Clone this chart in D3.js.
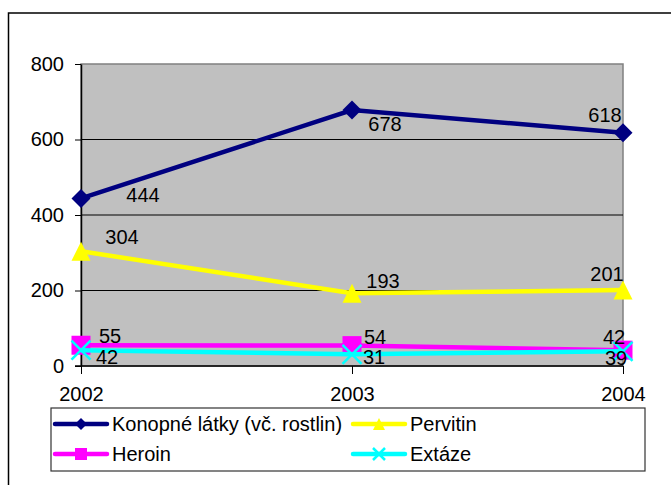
<!DOCTYPE html>
<html>
<head>
<meta charset="utf-8">
<script src="https://cdn.jsdelivr.net/npm/d3@7"></script>
<style>
  body { margin: 0; background: #fff; }
  text { font-family: "Liberation Sans", Arial, sans-serif; fill: #000; }
</style>
</head>
<body>
<div id="chart"></div>
<script>
// data
const years = ["2002", "2003", "2004"];
const konopne = [444, 678, 618];
const pervitin = [304, 193, 201];
const heroin = [55, 54, 42];
const extaze = [42, 31, 39];
const yTicks = [0, 200, 400, 600, 800];

const seriesNames = ["Konopné látky (vč. rostlin)", "Pervitin", "Heroin", "Extáze"];
const seriesValues = [konopne, pervitin, heroin, extaze];
const seriesColors = ["#000080", "#FFFF00", "#FF00FF", "#00FFFF"];
const seriesMarkers = ["diamond", "triangle", "square", "cross"];

// where each data label sits relative to its point (dx, dy of the text centre)
const labelOffsets = [
  [[62, -3], [33, 14], [-18, -18]],
  [[41, -14], [31, -12], [-16, -16]],
  [[29, -9], [23, -9], [-9, -13]],
  [[26, 7], [22, 3], [-7, 7]]
];

function drawChart(container) {
  const width = 671;
  const height = 485;
  const margin = {left: 81, right: 48, top: 64, bottom: 119};
  const fontSize = "20px";

  const svg = d3.select(container).append("svg")
    .attr("width", width)
    .attr("height", height);

  // outer chart border
  svg.append("rect")
    .attr("x", 8.5).attr("y", 13)
    .attr("width", 700).attr("height", 500)
    .attr("fill", "none")
    .attr("stroke", "#000")
    .attr("stroke-width", 1.5);

  const x = d3.scalePoint()
    .domain(years)
    .range([margin.left, width - margin.right]);

  const y = d3.scaleLinear()
    .domain([0, 800])
    .range([height - margin.bottom, margin.top]);

  // plot area
  svg.append("rect")
    .attr("x", margin.left).attr("y", margin.top)
    .attr("width", width - margin.right - margin.left)
    .attr("height", y(0) - margin.top)
    .attr("fill", "#C0C0C0")
    .attr("stroke", "#808080")
    .attr("stroke-width", 1.5);

  // gridlines
  svg.append("g")
    .selectAll("line")
    .data(yTicks.filter(d => d > 0 && d < 800))
    .join("line")
    .attr("x1", margin.left).attr("x2", width - margin.right)
    .attr("y1", d => y(d)).attr("y2", d => y(d))
    .attr("stroke", "#000")
    .attr("stroke-width", 1);

  // y axis
  const yAxis = svg.append("g")
    .attr("transform", `translate(${margin.left},0)`)
    .call(d3.axisLeft(y).tickValues(yTicks).tickSize(6).tickPadding(11).tickSizeOuter(0));
  yAxis.select(".domain").attr("stroke", "#000").attr("stroke-width", 1.5);
  yAxis.selectAll("text")
    .style("font-size", fontSize)
    .style("font-family", "Liberation Sans, Arial, sans-serif");

  // x axis
  const xAxis = svg.append("g")
    .attr("transform", `translate(0,${y(0)})`)
    .call(d3.axisBottom(x).tickSize(8).tickSizeOuter(0).tickPadding(13));
  xAxis.select(".domain")
    .attr("d", `M${margin.left - 6},0H${width - margin.right}`)
    .attr("stroke", "#000").attr("stroke-width", 1.5);
  xAxis.selectAll("text")
    .style("font-size", fontSize)
    .style("font-family", "Liberation Sans, Arial, sans-serif");

  const line = d3.line()
    .x((d, i) => x(years[i]))
    .y(d => y(d));

  // marker outlines, r = half size
  function markerPath(kind, r) {
    if (kind === "diamond") return `M0,${-r}L${r},0L0,${r}L${-r},0Z`;
    if (kind === "triangle") return `M0,${-r}L${r},${r}L${-r},${r}Z`;
    if (kind === "square") return `M${-r},${-r}H${r}V${r}H${-r}Z`;
    return `M${-r},${-r}L${r},${r}M${-r},${r}L${r},${-r}`;
  }

  function addMarker(g, kind, color, cx, cy, r) {
    const p = g.append("path")
      .attr("d", markerPath(kind, r))
      .attr("transform", `translate(${cx},${cy})`);
    if (kind === "cross") {
      p.attr("fill", "none").attr("stroke", color).attr("stroke-width", 2.5);
    } else {
      p.attr("fill", color).attr("stroke", "none");
    }
  }

  seriesValues.forEach((vals, s) => {
    const g = svg.append("g");
    g.append("path")
      .datum(vals)
      .attr("d", line)
      .attr("fill", "none")
      .attr("stroke", seriesColors[s])
      .attr("stroke-width", 4.5);
    vals.forEach((v, i) => addMarker(g, seriesMarkers[s], seriesColors[s], x(years[i]), y(v), 9.5));
  });

  // data labels on top
  seriesValues.forEach((vals, s) => {
    svg.append("g")
      .selectAll("text")
      .data(vals)
      .join("text")
      .attr("x", (d, i) => x(years[i]) + labelOffsets[s][i][0])
      .attr("y", (d, i) => y(d) + labelOffsets[s][i][1])
      .attr("text-anchor", "middle")
      .attr("dominant-baseline", "central")
      .style("font-size", fontSize)
      .text(d => d);
  });

  // legend
  const legend = svg.append("g");
  legend.append("rect")
    .attr("x", 51).attr("y", 408)
    .attr("width", 594).attr("height", 63)
    .attr("fill", "#fff")
    .attr("stroke", "#333")
    .attr("stroke-width", 1.2);

  const legendPos = [[55, 424], [353, 424], [55, 454], [353, 454]];
  seriesNames.forEach((name, s) => {
    const [lx, ly] = legendPos[s];
    const g = legend.append("g");
    g.append("line")
      .attr("x1", lx).attr("x2", lx + 52)
      .attr("y1", ly).attr("y2", ly)
      .attr("stroke", seriesColors[s])
      .attr("stroke-width", 4.5)
      .attr("stroke-linecap", "round");
    addMarker(g, seriesMarkers[s], seriesColors[s], lx + 26, ly, 6);
    g.append("text")
      .attr("x", lx + 57)
      .attr("y", ly)
      .attr("dominant-baseline", "central")
      .style("font-size", fontSize)
      .text(name);
  });
}

drawChart(document.getElementById("chart"));
</script>
</body>
</html>
